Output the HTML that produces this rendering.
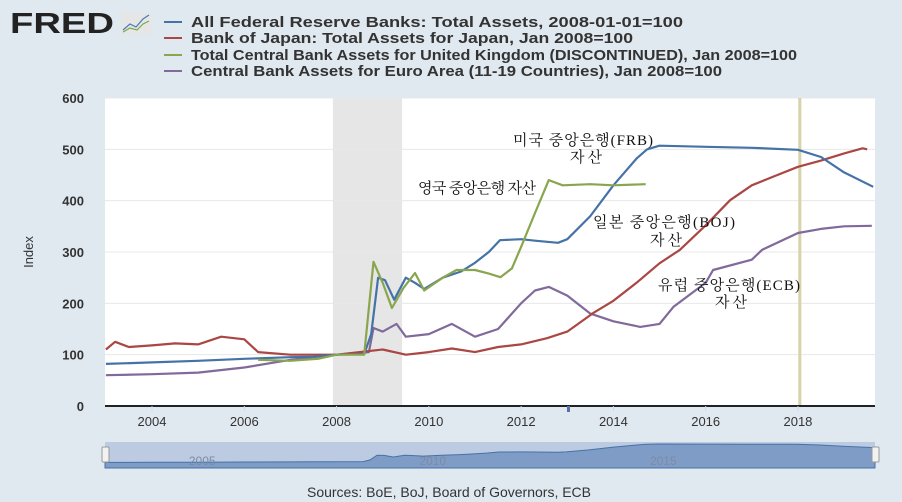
<!DOCTYPE html>
<html><head><meta charset="utf-8">
<style>
body{margin:0;width:902px;height:502px;background:#e1e9f0;overflow:hidden;font-family:"Liberation Sans",sans-serif}
svg{position:absolute;left:0;top:0}
</style></head><body>
<svg id="c" width="902" height="502" xmlns="http://www.w3.org/2000/svg">
  <text x="10" y="33" font-size="29" font-weight="bold" fill="#222" textLength="104" lengthAdjust="spacingAndGlyphs" font-family="Liberation Sans,sans-serif">FRED</text>
  <g>
    <rect x="121" y="13" width="30" height="21" fill="#e6e6e6"/>
    <polyline points="123,30 130,24 136,27 143,19 149,15" fill="none" stroke="#4a7ab5" stroke-width="1.2"/>
    <polyline points="123,32 130,28 137,30 143,24 149,21" fill="none" stroke="#7ca84a" stroke-width="1.2"/>
  </g>
  <g font-size="15" font-weight="bold" fill="#333">
    <line x1="164" y1="22" x2="182" y2="22" stroke="#4572a7" stroke-width="2"/><text x="191" y="27" textLength="492" lengthAdjust="spacingAndGlyphs">All Federal Reserve Banks: Total Assets, 2008-01-01=100</text>
    <line x1="164" y1="38" x2="182" y2="38" stroke="#aa4643" stroke-width="2"/><text x="191" y="43" textLength="442" lengthAdjust="spacingAndGlyphs">Bank of Japan: Total Assets for Japan, Jan 2008=100</text>
    <line x1="164" y1="55" x2="182" y2="55" stroke="#89a54e" stroke-width="2"/><text x="191" y="60" textLength="606" lengthAdjust="spacingAndGlyphs">Total Central Bank Assets for United Kingdom (DISCONTINUED), Jan 2008=100</text>
    <line x1="164" y1="71" x2="182" y2="71" stroke="#80699b" stroke-width="2"/><text x="191" y="76" textLength="531" lengthAdjust="spacingAndGlyphs">Central Bank Assets for Euro Area (11-19 Countries), Jan 2008=100</text>
  </g>
  <rect x="105" y="98" width="770" height="308" fill="#fff"/>
  <g id="grid"></g>
  <g id="marks"></g>
  <g id="axes"></g>
  <g font-family="Liberation Serif,'Noto Serif CJK KR',serif" font-size="15" fill="#111">
    <text x="513" y="145" textLength="140" lengthAdjust="spacing">미국 중앙은행(FRB)</text>
    <text x="570" y="162" textLength="32" lengthAdjust="spacing">자산</text>
    <text x="418" y="193" textLength="118" lengthAdjust="spacing">영국 중앙은행 자산</text>
    <text x="593" y="227" textLength="142" lengthAdjust="spacing">일본 중앙은행(BOJ)</text>
    <text x="650" y="245" textLength="32" lengthAdjust="spacing">자산</text>
    <text x="658" y="290" textLength="142" lengthAdjust="spacing">유럽 중앙은행(ECB)</text>
    <text x="715" y="307" textLength="32" lengthAdjust="spacing">자산</text>
  </g>
  <text x="33" y="252" font-size="13" fill="#333" transform="rotate(-90 33 252)" text-anchor="middle">Index</text>
  <g id="nav"></g>
  <text x="449" y="497" font-size="14" fill="#333" text-anchor="middle">Sources: BoE, BoJ, Board of Governors, ECB</text>
</svg>
<script>
const yTicks=[0,100,200,300,400,500,600];
const xTicks=[2004,2006,2008,2010,2012,2014,2016,2018];
const navLabels=[2005,2010,2015];
const recession=[2007.92,2009.42];
const marker=2018.04;
const fedYears=[2003,2004,2005,2006,2007,2007.5,2008,2008.6,2008.75,2008.9,2009.05,2009.25,2009.5,2009.7,2009.9,2010.3,2010.7,2011,2011.3,2011.54,2012,2012.3,2012.8,2013,2013.5,2014,2014.5,2014.73,2015,2016,2017,2018,2018.5,2019,2019.63];
const fedVals=[82,85,88,92,95,96,100,101,140,250,245,207,250,240,228,250,262,279,300,323,325,322,318,325,370,430,482,500,507,505,503,499,485,455,427];
const jpYears=[2003,2003.2,2003.5,2004,2004.5,2005,2005.5,2006,2006.3,2007,2007.5,2008,2008.5,2009,2009.5,2010,2010.5,2011,2011.5,2012,2012.56,2013,2013.56,2014,2014.5,2015,2015.44,2016,2016.53,2017,2017.5,2018,2018.5,2019,2019.4,2019.5];
const jpVals=[110,125,115,118,122,120,135,130,105,100,100,100,105,110,100,105,112,105,115,120,132,145,181,205,240,278,304,352,401,430,448,466,478,492,502,500];
const ukYears=[2006.3,2007,2007.6,2008,2008.6,2008.8,2009.0,2009.2,2009.45,2009.7,2009.9,2010.3,2010.6,2011,2011.3,2011.55,2011.8,2012,2012.3,2012.6,2012.9,2013.5,2014,2014.7];
const ukVals=[90,88,92,100,100,281,240,191,230,259,225,250,265,265,258,251,268,310,376,440,430,432,430,432];
const euYears=[2003,2004,2005,2006,2007,2007.5,2008,2008.7,2008.8,2009,2009.3,2009.5,2010,2010.5,2011,2011.5,2012,2012.3,2012.6,2013,2013.5,2014,2014.58,2015,2015.3,2016,2016.16,2017,2017.22,2018,2018.5,2019,2019.6];
const euVals=[60,62,65,75,90,95,100,105,152,145,160,135,140,160,135,150,200,225,232,215,180,165,154,160,193,240,265,285,304,337,345,350,351];

const NS="http://www.w3.org/2000/svg";
const X0=105,X1=875,Y0=406,Y1=98;
const xs=y=>152+(y-2004)*46.14;
const ys=v=>Y0-(v/600)*(Y0-Y1);
function el(t,a,p){const e=document.createElementNS(NS,t);for(const k in a)e.setAttribute(k,a[k]);p.appendChild(e);return e;}
const grid=document.getElementById('grid'),marks=document.getElementById('marks'),axes=document.getElementById('axes'),nav=document.getElementById('nav');
const rec=el('rect',{x:xs(recession[0]),y:Y1,width:xs(recession[1])-xs(recession[0]),height:Y0-Y1,fill:'#e6e6e6'},grid);


yTicks.forEach(v=>{
  const l=el('line',{x1:X0,x2:X1,y1:ys(v),y2:ys(v),stroke:'#e8e8e8','stroke-width':1},grid);
  
  
  const t=el('text',{x:84,y:ys(v)+5,'font-size':13,'font-weight':'bold',fill:'#333','text-anchor':'end'},axes);
  t.textContent=v;
  
  
});
const mk=el('line',{x1:xs(marker),x2:xs(marker),y1:Y1,y2:Y0,stroke:'#d6d3a8','stroke-width':3},grid);


function series(xa,va,color,name){
  const p=el('polyline',{points:xa.map((x,i)=>xs(x).toFixed(1)+','+ys(va[i]).toFixed(1)).join(' '),fill:'none',stroke:color,'stroke-width':2.2,'stroke-linejoin':'round'},marks);
  
  
}
series(euYears,euVals,'#80699b','series-euro');
series(jpYears,jpVals,'#aa4643','series-japan');
series(fedYears,fedVals,'#4572a7','series-fed');
series(ukYears,ukVals,'#89a54e','series-uk');
const ax=el('line',{x1:X0,x2:X1,y1:Y0,y2:Y0,stroke:'#222','stroke-width':2},axes);


el('rect',{x:567,y:406,width:3,height:6,fill:'#5b6fb0'},axes);
xTicks.forEach(y=>{
  el('line',{x1:xs(y),x2:xs(y),y1:Y0,y2:Y0+5,stroke:'#ccd6eb'},axes);
  const t=el('text',{x:xs(y),y:426,'font-size':13,fill:'#333','text-anchor':'middle'},axes);
  t.textContent=y;
  
  
});
// navigator
el('rect',{x:X0,y:442,width:X1-X0,height:26,fill:'#bccbe2'},nav);
const nx=y=>X0+(y-2003)/(2019.7-2003)*(X1-X0);
const ny=v=>466-v/507*22;
let d='M'+X0+',468 '+fedYears.map((y,i)=>'L'+nx(y).toFixed(1)+','+ny(fedVals[i]).toFixed(1)).join(' ')+' L'+X1+','+ny(fedVals[fedVals.length-1]).toFixed(1)+' L'+X1+',468Z';
const na=el('path',{d:d,fill:'#7f9cc6',stroke:'#4572a7','stroke-width':1},nav);


navLabels.forEach(y=>{
  const t=el('text',{x:nx(y)+5,y:465,'font-size':12,fill:'#7d8ba3','text-anchor':'middle'},nav);
  t.textContent=y;
  
  
});
[X0-3,X1-3].forEach((x,i)=>{
  const h=el('rect',{x:x,y:447,width:7,height:15,fill:'#f2f2f2',stroke:'#999',rx:1},nav);
  
  
});
</script>
</body></html>
